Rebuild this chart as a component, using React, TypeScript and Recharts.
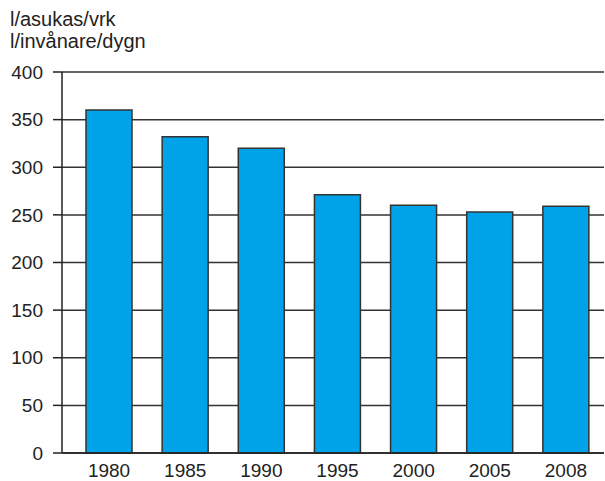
import { BarChart, Bar, XAxis, YAxis, CartesianGrid } from "recharts"

const FONT = "'Liberation Sans', Arial, sans-serif"

const years = ["1980", "1985", "1990", "1995", "2000", "2005", "2008"]
const litres = [360, 332, 320, 271, 260, 253, 259]
const yTicks = [0, 50, 100, 150, 200, 250, 300, 350, 400]

const rows = years.map((year, i) => ({ year, value: litres[i] }))

export default function App() {
  return (
    <div style={{ position: "absolute", left: 0, top: 0, width: 605, height: 481, background: "#fff", fontFamily: FONT }}>
      <div style={{ position: "absolute", left: 10, top: 8, fontSize: 20, color: "#222", lineHeight: "22px" }}>
        <div>l/asukas/vrk</div>
        <div>l/invånare/dygn</div>
      </div>
      <BarChart width={605} height={481} data={rows} margin={{ top: 72, right: 1, bottom: 0, left: 0 }}>
        <CartesianGrid vertical={false} stroke="#333" strokeWidth={1.5} />
        <XAxis
          dataKey="year"
          height={28}
          padding={{ left: 9, right: 0 }}
          tickLine={false}
          tickMargin={5}
          axisLine={{ stroke: "#222", strokeWidth: 1.5 }}
          tick={{ fontFamily: FONT, fontSize: 19, fill: "#222" }}
        />
        <YAxis
          width={62}
          domain={[0, 400]}
          ticks={yTicks}
          tickSize={9}
          tickMargin={10}
          tickLine={{ stroke: "#222", strokeWidth: 1.5 }}
          axisLine={{ stroke: "#222", strokeWidth: 1.5 }}
          tick={{ fontFamily: FONT, fontSize: 19, fill: "#222" }}
        />
        <Bar dataKey="value" fill="#00A3E8" stroke="#333" strokeWidth={1.5} barSize={46} isAnimationActive={false} />
      </BarChart>
    </div>
  )
}
